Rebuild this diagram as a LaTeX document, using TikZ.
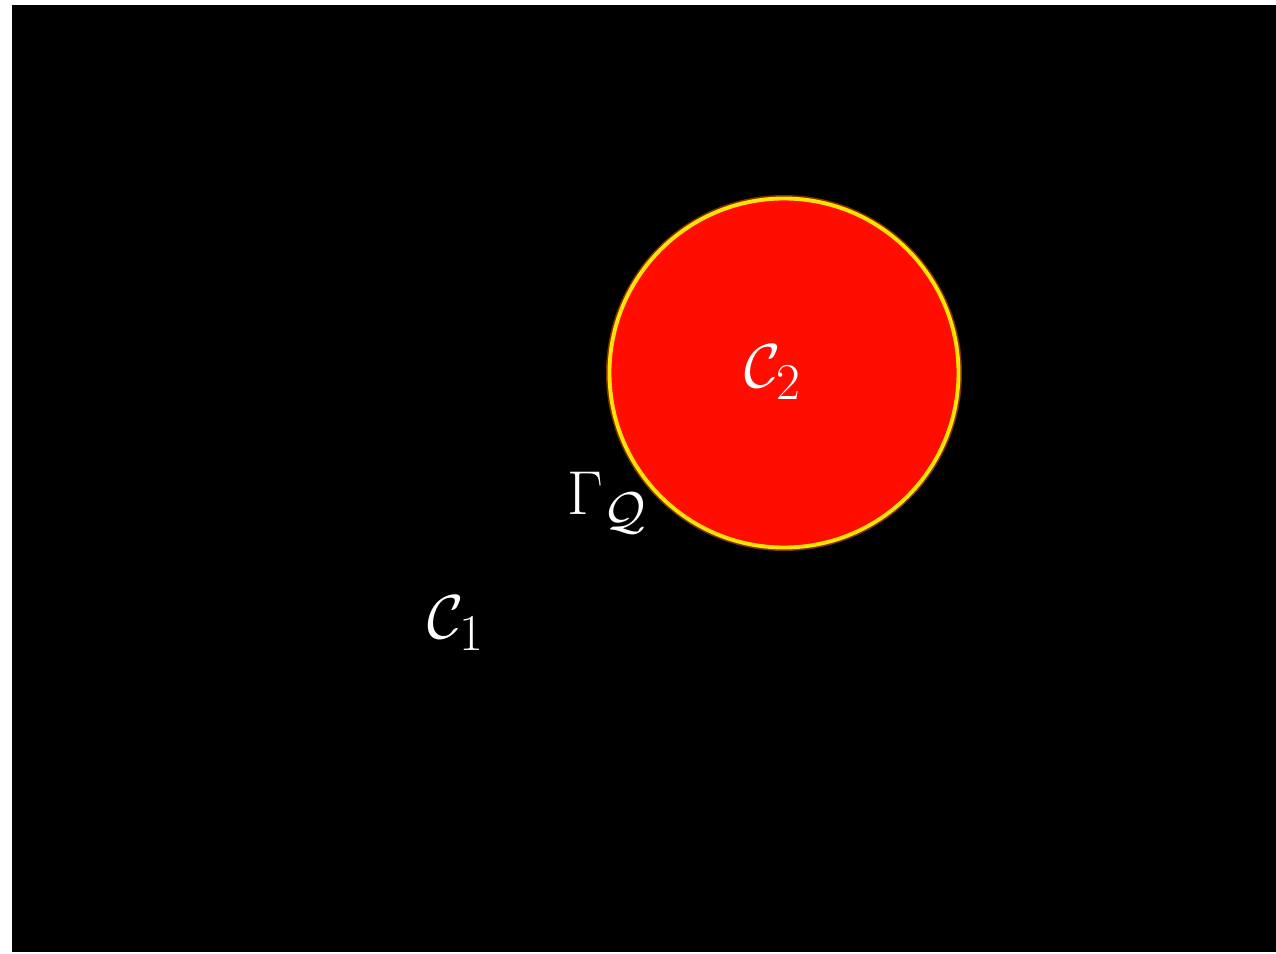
\documentclass[tikz,border=0pt]{standalone}
\usepackage{amsmath}
\begin{document}
\begin{tikzpicture}[x=0.02cm,y=-0.02cm,
  lbl/.style={text=white,font=\Huge,scale=1.42,transform shape}]
  % Fundo
  \useasboundingbox (0,0) rectangle (1276,954);
  \fill[black] (12,5) rectangle (1276,952);
  % Disco C2
  \fill[orange!80!red,opacity=0.5] (784,373) circle (178);
  \fill[red!95!yellow] (784,373) circle (176);
  \draw[yellow!85!orange,line width=2.2pt] (784,373) circle (174.5);
  \node[circle,minimum size=3.5cm,inner sep=0pt] (disco) at (784,373) {};
  % Rótulos
  \node[lbl] (c2) at (773,372) {$\mathcal{C}_2$};
  \node[lbl] (gamma) at (607,503) {$\Gamma_{\mathcal{Q}}$};
  \node[lbl] (c1) at (456,623) {$\mathcal{C}_1$};
\end{tikzpicture}
\end{document}
